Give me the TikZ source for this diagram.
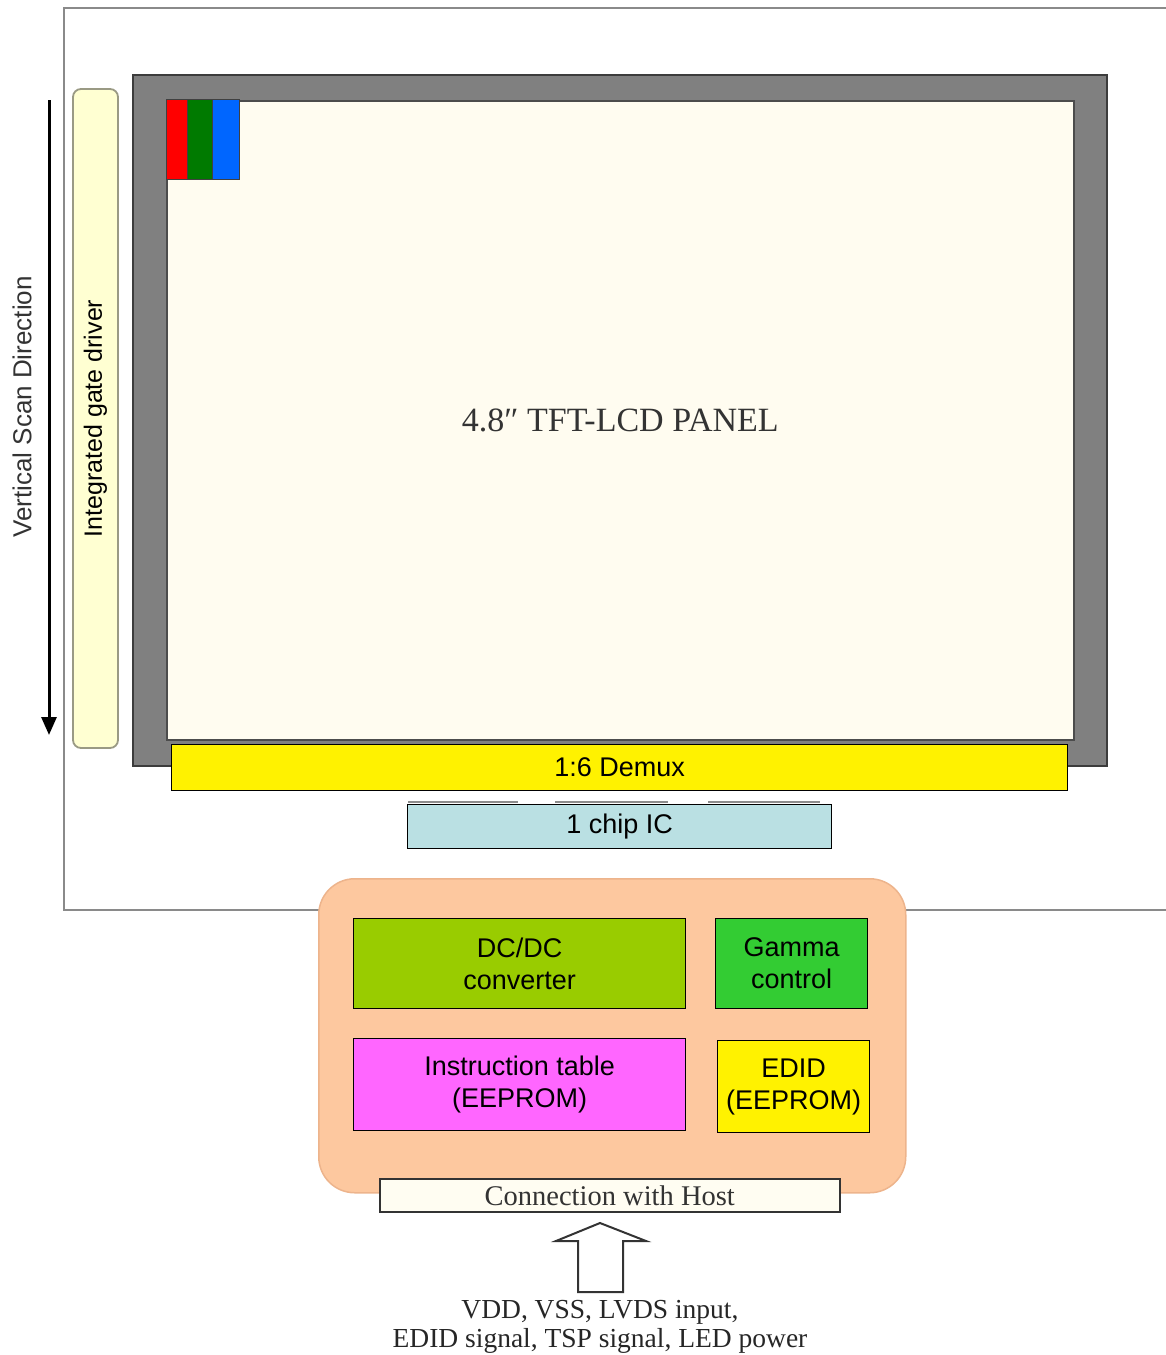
\documentclass[tikz,border=0pt]{standalone}
\usepackage{fontspec}
\setmainfont{Liberation Serif}
\setsansfont{Liberation Sans}
\usetikzlibrary{arrows.meta}
\definecolor{framegray}{HTML}{8A8A8A}
\definecolor{panelgray}{HTML}{808080}
\definecolor{panelborder}{HTML}{3C3C3C}
\definecolor{screencream}{HTML}{FFFCF0}
\definecolor{gatefill}{HTML}{FFFFD2}
\definecolor{gateborder}{HTML}{9A9A84}
\definecolor{chipfill}{HTML}{BAE0E3}
\definecolor{peach}{HTML}{FDC89F}
\definecolor{peachborder}{HTML}{EDB48C}
\definecolor{dcfill}{HTML}{99CC00}
\definecolor{gammafill}{HTML}{33CC33}
\definecolor{instrfill}{HTML}{FF66FF}
\definecolor{connfill}{HTML}{FFFDF2}
\definecolor{pxred}{HTML}{FF0000}
\definecolor{pxgreen}{HTML}{007A00}
\definecolor{pxblue}{HTML}{0066FF}
\begin{document}
\begin{tikzpicture}[x=1pt,y=-1pt,
  block/.style={draw=black, line width=1.3pt, anchor=north west, inner sep=0pt,
    align=center, font=\sffamily\fontsize{27}{32}\selectfont},
  serifbox/.style={draw=black!80, line width=1.5pt, anchor=north west, inner sep=0pt,
    align=center, text=black!80, font=\rmfamily\fontsize{28.5}{30}\selectfont},
  pixel/.style={draw=black!75, line width=1.3pt, anchor=north west, inner sep=0pt,
    minimum width=21pt, minimum height=80pt},
  tab/.style={draw=black!45, line width=2.5pt},
]
\useasboundingbox (0,0) rectangle (1166,1355);

% outer frame (open on the right)
\draw[framegray, line width=2pt] (1166,8) -- (64,8) -- (64,910) -- (1166,910);

% panel
\node[draw=panelborder, fill=panelgray, line width=2pt, anchor=north west, inner sep=0pt,
  minimum width=974pt, minimum height=691pt] (frame) at (132,74) {};
\node[draw=black!70, fill=screencream, line width=1.6pt, anchor=north west, inner sep=0pt,
  minimum width=907pt, minimum height=639pt, text=black!80,
  font=\rmfamily\fontsize{34}{38}\selectfont] (screen) at (166,100) {4.8″ TFT-LCD PANEL};

% RGB sub-pixels
\node[pixel, fill=pxred] (pr) at (166,99) {};
\node[pixel, fill=pxgreen, minimum width=25pt] (pg) at (187,99) {};
\node[pixel, fill=pxblue, minimum width=27pt] (pb) at (212,99) {};

% gate driver
\node[draw=gateborder, fill=gatefill, line width=1.8pt, rounded corners=8pt, rotate=90,
  minimum width=659pt, minimum height=45pt, inner sep=0pt,
  font=\sffamily\fontsize{25}{28}\selectfont] (gate) at (95.5,418.5) {Integrated gate driver};

% vertical scan direction
\node[rotate=90, text=black!80, font=\sffamily\fontsize{26}{30}\selectfont] (scanlbl) at (22,407) {Vertical Scan Direction};
\coordinate (scanA) at (49,100);
\coordinate (scanB) at (49,735);
\draw[line width=3pt, -{Triangle[length=18pt,width=15pt]}] (scanA) -- (scanB);

% demux and chip
\node[block, fill=yellow, minimum width=896pt, minimum height=46pt] (demux) at (171,744) {1:6 Demux};
\draw[tab] (408,802) -- (518,802);
\draw[tab] (555,802) -- (668,802);
\draw[tab] (708,802) -- (820,802);
\node[block, fill=chipfill, minimum width=424pt, minimum height=44pt] (chip) at (407,804) {1 chip IC};

% host board
\node[draw=peachborder, fill=peach, line width=1.5pt, rounded corners=36pt, anchor=north west,
  inner sep=0pt, minimum width=587pt, minimum height=314pt] (host) at (318,878) {};
\node[block, fill=dcfill, minimum width=332pt, minimum height=90pt] (dcdc) at (353,918) {DC/DC\\converter};
\node[block, fill=gammafill, minimum width=152pt, minimum height=90pt] (gamma) at (715,918) {Gamma\\control};
\node[block, fill=instrfill, minimum width=332pt, minimum height=92pt] (instr) at (353,1038) {Instruction table\\(EEPROM)};
\node[block, fill=yellow, minimum width=152pt, minimum height=92pt] (edid) at (717,1040) {EDID\\(EEPROM)};
\node[serifbox, fill=connfill, minimum width=460pt, minimum height=33pt] (conn) at (379,1178) {Connection with Host};

% block arrow
\filldraw[draw=black!80, fill=white, line width=2pt, line join=miter]
  (600,1223) -- (646,1241) -- (623,1241) -- (623,1292) -- (578,1292) -- (578,1241) -- (556,1241) -- cycle;

% signals
\node[align=center, text=black!85, font=\rmfamily\fontsize{27.5}{29}\selectfont] (sig) at (600,1327)
  {VDD, VSS, LVDS input,\\EDID signal, TSP signal, LED power};
\end{tikzpicture}
\end{document}
